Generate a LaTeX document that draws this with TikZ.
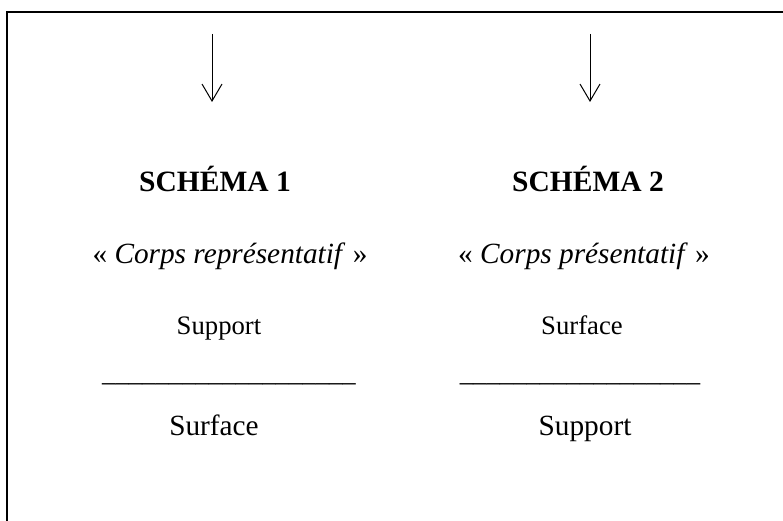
\documentclass[tikz,border=0pt]{standalone}
\usepackage{fontspec}
\setmainfont{Liberation Serif}
\usetikzlibrary{arrows.meta}
\tikzset{
  frame/.style={line width=2pt},
  downarrow/.style={line width=1pt,-{Straight Barb[length=17pt,width=20pt,line width=1pt]}},
  title/.style={font=\fontsize{29.5}{34}\selectfont\bfseries,inner sep=0pt,anchor=base},
  subtitle/.style={font=\fontsize{29.3}{34}\selectfont,inner sep=0pt,anchor=base},
  upper/.style={font=\fontsize{26.7}{31}\selectfont,inner sep=0pt,anchor=base},
  lower/.style={font=\fontsize{29.3}{34}\selectfont,inner sep=0pt,anchor=base},
  bar/.style={font=\fontsize{26.7}{31}\selectfont,inner sep=0pt,anchor=base}
}
\begin{document}
\begin{tikzpicture}[x=1pt,y=-1pt]
\useasboundingbox (0,0) rectangle (783,521);
\coordinate (fl) at (7,530);
\coordinate (ftl) at (7,12);
\coordinate (fr) at (790,12);
\draw[frame] (fl) -- (ftl) -- (fr);
\coordinate (a1s) at (212,34);
\coordinate (a1e) at (212,102);
\coordinate (a2s) at (590,34);
\coordinate (a2e) at (590,102);
\draw[downarrow] (a1s) -- (a1e);
\draw[downarrow] (a2s) -- (a2e);
\node[title] (t1) at (215,192) {SCHÉMA 1};
\node[title] (t2) at (588,192) {SCHÉMA 2};
\node[subtitle] (s1) at (230,263) {« \textit{Corps représentatif} »};
\node[subtitle] (s2) at (584,263) {« \textit{Corps présentatif} »};
\node[upper] (u1) at (219,334) {Support};
\node[upper] (u2) at (582,334) {Surface};
\node[bar] (b1) at (229,381) {\_\_\_\_\_\_\_\_\_\_\_\_\_\_\_\_\_\_\_};
\node[bar] (b2) at (580,381) {\_\_\_\_\_\_\_\_\_\_\_\_\_\_\_\_\_\_};
\node[lower] (l1) at (214,435) {Surface};
\node[lower] (l2) at (585,435) {Support};
\end{tikzpicture}
\end{document}
